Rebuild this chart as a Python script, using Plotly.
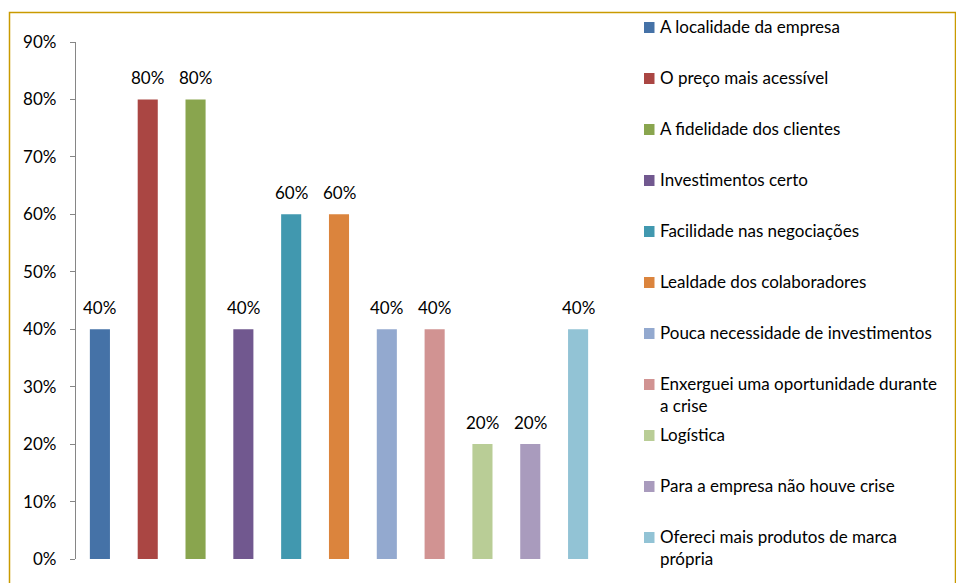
import plotly.graph_objects as go

# Motivos apontados (percentual de respostas)
categories = [
    "A localidade da empresa",
    "O preço mais acessível",
    "A fidelidade dos clientes",
    "Investimentos certo",
    "Facilidade nas negociações",
    "Lealdade dos colaboradores",
    "Pouca necessidade de investimentos",
    "Enxerguei uma oportunidade durante<br>a crise",
    "Logística",
    "Para a empresa não houve crise",
    "Ofereci mais produtos de marca<br>própria",
]
values = [0.40, 0.80, 0.80, 0.40, 0.60, 0.60, 0.40, 0.40, 0.20, 0.20, 0.40]
colors = [
    "#4572A7", "#AA4643", "#89A54E", "#71588F", "#4198AF", "#DB843D",
    "#93A9CF", "#D19392", "#B9CD96", "#A99BBD", "#92C3D5",
]
y_ticks = [0, 0.1, 0.2, 0.3, 0.4, 0.5, 0.6, 0.7, 0.8, 0.9]

W, H = 956, 583
L, R, T, B = 76, 354, 42, 24
PW, PH = W - L - R, H - T - B
FONT = "Lato, Carlito, Calibri, sans-serif"
FS = 17


def px_x(px):
    return (px - L) / PW


def px_y(py):
    return 1 - (py - T) / PH


fig = go.Figure()
positions = list(range(len(categories)))
for pos, name, val, col in zip(positions, categories, values, colors):
    fig.add_trace(go.Bar(
        x=[pos], y=[val], name=name.replace("<br>", " "),
        marker=dict(color=col, line=dict(width=0)),
        width=0.42, showlegend=False,
        hovertemplate="%{y:.0%}<extra>" + name.replace("<br>", " ") + "</extra>",
    ))

annotations = []
# value labels above the bars
for pos, val in zip(positions, values):
    annotations.append(dict(
        x=pos, y=val, xref="x", yref="y", text=f"{val:.0%}",
        showarrow=False, yanchor="bottom", yshift=9,
        font=dict(family=FONT, size=FS, color="#000000"),
    ))

# legend drawn at the right side
shapes = []
leg_top, leg_step = 27.5, 51.0
for i, (name, col) in enumerate(zip(categories, colors)):
    cy = leg_top + i * leg_step
    shapes.append(dict(
        type="rect", xref="paper", yref="paper",
        x0=px_x(644), x1=px_x(654.5), y0=px_y(cy + 5.5), y1=px_y(cy - 5.5),
        fillcolor=col, line=dict(width=0),
    ))
    annotations.append(dict(
        x=px_x(657.5), y=px_y(cy - 13.5), xref="paper", yref="paper",
        text=name, showarrow=False, xanchor="left", yanchor="top",
        align="left", font=dict(family=FONT, size=FS, color="#000000"),
    ))

# outer frame
shapes.append(dict(
    type="rect", xref="paper", yref="paper",
    x0=px_x(9.5), x1=px_x(955.5), y0=px_y(600), y1=px_y(12.5),
    line=dict(color="#C99A00", width=1.5), fillcolor="rgba(0,0,0,0)",
    layer="below",
))

fig.update_layout(
    width=W, height=H,
    margin=dict(l=L, r=R, t=T, b=B, pad=0),
    paper_bgcolor="white", plot_bgcolor="white",
    barmode="overlay",
    font=dict(family=FONT, size=FS, color="#000000"),
    xaxis=dict(
        range=[-0.5, len(categories) - 0.5], showticklabels=False,
        showgrid=False, zeroline=False, showline=False, ticks="",
    ),
    yaxis=dict(
        range=[0, 0.9], tickvals=y_ticks, tickformat=".0%",
        showgrid=False, zeroline=False, showline=True,
        linecolor="#868686", linewidth=1.3,
        ticks="outside", ticklen=5, tickcolor="#868686", tickwidth=1.3,
        tickfont=dict(family=FONT, size=FS, color="#000000"),
        ticklabelstandoff=10,
    ),
    shapes=shapes, annotations=annotations,
)

fig.write_html("out.html")
